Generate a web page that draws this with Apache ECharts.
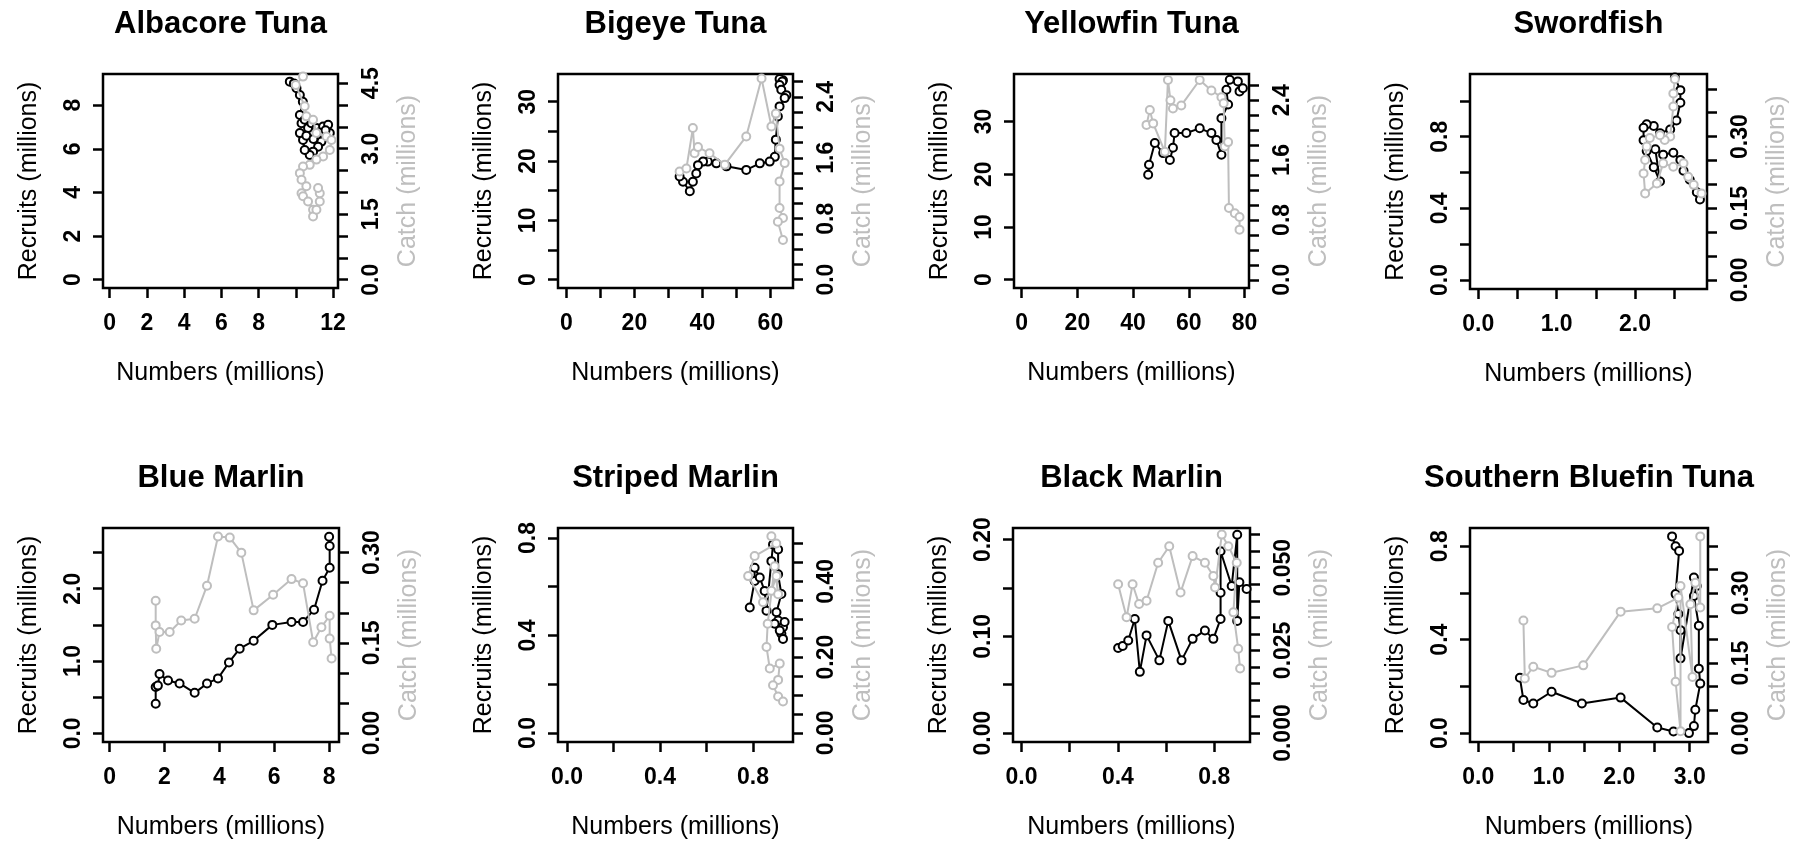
<!DOCTYPE html>
<html>
<head>
<meta charset="utf-8">
<script src="https://cdn.jsdelivr.net/npm/echarts@6/dist/echarts.min.js"></script>
<style>
html,body{margin:0;padding:0;background:#fff;}
#chart{width:1807px;height:841px;}
</style>
</head>
<body>
<div id="chart"></div>
<script>
// ---------------- DATA ----------------
// Albacore Tuna
const albNumR = [9.68,9.90,10.04,10.22,10.38,10.22,10.31,10.48,10.66,10.84,11.11,11.47,11.74,11.83,11.56,11.38,11.20,10.93,10.75,10.48,10.39,10.22,10.57,10.95,11.25,11.60];
const albRec  = [9.08,9.00,8.78,8.47,8.16,7.55,7.17,7.33,6.95,7.17,6.95,7.02,7.10,6.72,6.56,6.33,6.10,5.87,5.72,5.95,6.41,6.72,6.60,6.45,6.75,6.85];
const albNumC = [10.39,10.00,10.48,10.57,10.93,11.11,11.65,11.92,11.83,11.47,11.11,10.75,10.39,10.22,10.31,10.57,10.31,10.39,10.66,10.93,10.93,11.11,11.29,11.29,11.20];
const albCatch= [4.65,4.46,3.97,3.74,3.66,3.36,3.28,3.20,2.97,2.82,2.75,2.63,2.59,2.44,2.29,2.14,1.98,1.91,1.79,1.60,1.45,1.60,1.79,1.98,2.10];
// Bigeye Tuna
const bigNumR = [63.7,62.7,63.5,62.7,63.2,64.7,64.2,62.7,62.2,61.6,61.3,59.8,56.9,52.9,47.1,44.1,41.6,40.2,38.7,38.2,37.2,36.3,34.3,33.3];
const bigRec  = [33.6,33.8,33.4,32.8,32.0,31.1,30.6,29.2,27.5,23.6,20.7,19.9,19.6,18.5,19.1,19.6,19.9,19.9,19.3,17.9,16.5,14.9,16.5,17.4];
const bigNumC = [33.3,35.3,37.2,37.7,38.7,42.1,46.6,52.9,57.4,60.3,61.6,62.7,64.2,62.7,62.7,63.7,62.2,63.7];
const bigCatch= [1.42,1.46,1.99,1.66,1.74,1.66,1.51,1.88,2.64,2.01,2.18,1.72,1.53,1.29,0.94,0.81,0.76,0.52];
// Yellowfin Tuna
const yftNumR = [45.4,45.7,47.8,50.8,53.2,54.3,54.9,59.1,63.9,68.1,69.9,71.7,71.7,74.1,73.5,74.7,77.6,78.2,79.4];
const yftRec  = [19.9,21.8,25.9,24.0,22.7,25.0,27.8,27.8,28.7,27.8,26.5,23.7,30.6,33.2,36.0,37.9,37.6,35.7,36.3];
const yftNumC = [44.8,46.0,47.2,51.4,52.5,53.4,54.3,57.3,63.9,68.1,71.7,72.5,72.9,74.1,74.4,76.5,78.2,78.2];
const yftCatch= [2.07,2.27,2.09,1.71,2.67,2.40,2.29,2.33,2.67,2.53,2.44,2.36,1.78,1.84,0.96,0.89,0.84,0.67];
// Swordfish
const swoNumR = [2.51,2.58,2.58,2.53,2.45,2.32,2.24,2.15,2.11,2.11,2.15,2.24,2.32,2.26,2.36,2.49,2.58,2.62,2.70,2.79,2.83];
const swoRec  = [1.13,1.06,0.99,0.89,0.84,0.82,0.86,0.87,0.85,0.78,0.72,0.63,0.55,0.73,0.70,0.71,0.67,0.61,0.56,0.49,0.45];
const swoNumC = [2.51,2.49,2.49,2.45,2.38,2.32,2.19,2.15,2.13,2.11,2.13,2.28,2.36,2.49,2.62,2.68,2.75,2.85];
const swoCatch= [0.420,0.390,0.363,0.300,0.293,0.303,0.297,0.279,0.251,0.223,0.181,0.202,0.244,0.237,0.244,0.216,0.199,0.181];
// Blue Marlin
const bumNumR = [1.68,1.68,1.76,1.82,2.13,2.55,3.10,3.55,3.95,4.35,4.74,5.25,5.93,6.63,7.05,7.45,7.76,8.02,8.02,8.00];
const bumRec  = [0.41,0.64,0.66,0.82,0.73,0.69,0.56,0.69,0.76,0.98,1.17,1.28,1.50,1.54,1.54,1.71,2.11,2.29,2.59,2.72];
const bumNumC = [1.68,1.68,1.70,1.82,2.19,2.61,3.10,3.55,3.95,4.38,4.80,5.25,5.96,6.63,7.05,7.42,7.72,8.02,8.02,8.09];
const bumCatch= [0.220,0.179,0.140,0.168,0.168,0.187,0.190,0.245,0.327,0.325,0.300,0.204,0.230,0.256,0.249,0.151,0.176,0.195,0.157,0.124];
// Striped Marlin
const stmNumR = [0.786,0.807,0.807,0.829,0.850,0.858,0.879,0.886,0.908,0.908,0.922,0.901,0.908,0.893,0.929,0.922,0.929,0.915,0.936];
const stmRec  = [0.515,0.624,0.678,0.638,0.583,0.502,0.705,0.773,0.753,0.651,0.570,0.495,0.461,0.448,0.434,0.407,0.386,0.420,0.455];
const stmNumC = [0.879,0.900,0.807,0.779,0.843,0.879,0.901,0.908,0.893,0.863,0.858,0.872,0.915,0.908,0.886,0.908,0.929];
const stmCatch= [0.519,0.500,0.467,0.414,0.345,0.375,0.414,0.366,0.440,0.288,0.227,0.170,0.183,0.140,0.126,0.096,0.083];
// Black Marlin
const blmNumR = [0.401,0.420,0.443,0.470,0.491,0.519,0.572,0.609,0.664,0.710,0.761,0.796,0.826,0.826,0.826,0.872,0.895,0.895,0.904,0.934];
const blmRec  = [0.0879,0.0900,0.0957,0.118,0.0633,0.101,0.0752,0.116,0.0752,0.0974,0.106,0.0974,0.118,0.145,0.188,0.152,0.205,0.116,0.156,0.149];
const blmNumC = [0.401,0.436,0.461,0.488,0.519,0.567,0.613,0.660,0.710,0.761,0.796,0.803,0.831,0.858,0.893,0.879,0.899,0.907];
const blmCatch= [0.0450,0.0350,0.0450,0.0390,0.0400,0.0515,0.0565,0.0425,0.0535,0.0515,0.0475,0.0440,0.0600,0.0565,0.0515,0.0365,0.0255,0.0195];
// Southern Bluefin Tuna
const sbtNumR = [2.75,2.80,2.85,2.80,2.84,2.87,2.87,3.06,3.10,3.06,3.13,3.13,3.15,3.08,3.06,2.99,2.77,2.54,2.02,1.47,1.04,0.78,0.64,0.59];
const sbtRec  = [0.842,0.800,0.780,0.595,0.510,0.440,0.320,0.666,0.630,0.587,0.460,0.276,0.212,0.100,0.030,0.000,0.007,0.024,0.152,0.127,0.177,0.127,0.142,0.237];
const sbtNumC = [0.64,0.66,0.78,1.04,1.49,2.02,2.54,2.84,2.75,2.80,2.87,2.87,3.04,3.01,3.08,3.15,3.15];
const sbtCatch= [0.241,0.117,0.142,0.129,0.145,0.260,0.267,0.290,0.227,0.110,0.004,0.315,0.120,0.276,0.322,0.269,0.421];

// ---------------- TICKS & TICK LABELS ----------------
const albXTicks = [0,2,4,6,8,10,12];            const albXLabels = ['0','2','4','6','8','12'];
const albRTicks = [0,2,4,6,8];                  const albRLabels = ['0','2','4','6','8'];
const albCTicks = [0,0.5,1,1.5,2,2.5,3,3.5,4,4.5]; const albCLabels = ['0.0','1.5','3.0','4.5'];

const bigXTicks = [0,10,20,30,40,50,60];        const bigXLabels = ['0','20','40','60'];
const bigRTicks = [0,5,10,15,20,25,30];         const bigRLabels = ['0','10','20','30'];
const bigCTicks = [0,0.2,0.4,0.6,0.8,1.0,1.2,1.4,1.6,1.8,2.0,2.2,2.4,2.6]; const bigCLabels = ['0.0','0.8','1.6','2.4'];

const yftXTicks = [0,20,40,60,80];              const yftXLabels = ['0','20','40','60','80'];
const yftRTicks = [0,10,20,30];                 const yftRLabels = ['0','10','20','30'];
const yftCTicks = [0,0.2,0.4,0.6,0.8,1.0,1.2,1.4,1.6,1.8,2.0,2.2,2.4,2.6]; const yftCLabels = ['0.0','0.8','1.6','2.4'];

const swoXTicks = [0,0.5,1,1.5,2,2.5];          const swoXLabels = ['0.0','1.0','2.0'];
const swoRTicks = [0,0.2,0.4,0.6,0.8,1.0];      const swoRLabels = ['0.0','0.4','0.8'];
const swoCTicks = [0,0.05,0.10,0.15,0.20,0.25,0.30,0.35,0.40]; const swoCLabels = ['0.00','0.15','0.30'];

const bumXTicks = [0,2,4,6,8];                  const bumXLabels = ['0','2','4','6','8'];
const bumRTicks = [0,0.5,1,1.5,2,2.5];          const bumRLabels = ['0.0','1.0','2.0'];
const bumCTicks = [0,0.05,0.10,0.15,0.20,0.25,0.30]; const bumCLabels = ['0.00','0.15','0.30'];

const stmXTicks = [0,0.2,0.4,0.6,0.8];          const stmXLabels = ['0.0','0.4','0.8'];
const stmRTicks = [0,0.2,0.4,0.6,0.8];          const stmRLabels = ['0.0','0.4','0.8'];
const stmCTicks = [0,0.05,0.10,0.15,0.20,0.25,0.30,0.35,0.40,0.45,0.50]; const stmCLabels = ['0.00','0.20','0.40'];

const blmXTicks = [0,0.2,0.4,0.6,0.8];          const blmXLabels = ['0.0','0.4','0.8'];
const blmRTicks = [0,0.05,0.10,0.15,0.20];      const blmRLabels = ['0.00','0.10','0.20'];
const blmCTicks = [0,0.005,0.010,0.015,0.020,0.025,0.030,0.035,0.040,0.045,0.050,0.055,0.060]; const blmCLabels = ['0.000','0.025','0.050'];

const sbtXTicks = [0,0.5,1,1.5,2,2.5,3];        const sbtXLabels = ['0.0','1.0','2.0','3.0'];
const sbtRTicks = [0,0.2,0.4,0.6,0.8];          const sbtRLabels = ['0.0','0.4','0.8'];
const sbtCTicks = [0,0.05,0.10,0.15,0.20,0.25,0.30,0.35,0.40]; const sbtCLabels = ['0.00','0.15','0.30'];

const titles = ['Albacore Tuna','Bigeye Tuna','Yellowfin Tuna','Swordfish','Blue Marlin','Striped Marlin','Black Marlin','Southern Bluefin Tuna'];

// ---------------- LAYOUT ----------------
const panels = [
  {numR:albNumR,rec:albRec,numC:albNumC,cat:albCatch,xT:albXTicks,xL:albXLabels,rT:albRTicks,rL:albRLabels,cT:albCTicks,cL:albCLabels,
   xr:[-0.36,12.27], rr:[-0.38,9.43], cr:[-0.19,4.71], box:[103,74,235,214]},
  {numR:bigNumR,rec:bigRec,numC:bigNumC,cat:bigCatch,xT:bigXTicks,xL:bigXLabels,rT:bigRTicks,rL:bigRLabels,cT:bigCTicks,cL:bigCLabels,
   xr:[-2.47,66.65], rr:[-1.40,34.66], cr:[-0.11,2.70], box:[558,74,235,214]},
  {numR:yftNumR,rec:yftRec,numC:yftNumC,cat:yftCatch,xT:yftXTicks,xL:yftXLabels,rT:yftRTicks,rL:yftRLabels,cT:yftCTicks,cL:yftCLabels,
   xr:[-2.76,81.6], rr:[-1.58,39.0], cr:[-0.11,2.75], box:[1014,74,235,214]},
  {numR:swoNumR,rec:swoRec,numC:swoNumC,cat:swoCatch,xT:swoXTicks,xL:swoXLabels,rT:swoRTicks,rL:swoRLabels,cT:swoCTicks,cL:swoCLabels,
   xr:[-0.106,2.92], rr:[-0.05,1.15], cr:[-0.019,0.431], box:[1470,74,237,215]},
  {numR:bumNumR,rec:bumRec,numC:bumNumC,cat:bumCatch,xT:bumXTicks,xL:bumXLabels,rT:bumRTicks,rL:bumRLabels,cT:bumCTicks,cL:bumCLabels,
   xr:[-0.24,8.36], rr:[-0.12,2.84], cr:[-0.015,0.341], box:[103,528,236,216]},
  {numR:stmNumR,rec:stmRec,numC:stmNumC,cat:stmCatch,xT:stmXTicks,xL:stmXLabels,rT:stmRTicks,rL:stmRLabels,cT:stmCTicks,cL:stmCLabels,
   xr:[-0.039,0.972], rr:[-0.037,0.841], cr:[-0.024,0.541], box:[558,528,235,216]},
  {numR:blmNumR,rec:blmRec,numC:blmNumC,cat:blmCatch,xT:blmXTicks,xL:blmXLabels,rT:blmRTicks,rL:blmRLabels,cT:blmCTicks,cL:blmCLabels,
   xr:[-0.035,0.948], rr:[-0.0092,0.212], cr:[-0.0027,0.062], box:[1013,528,237,216]},
  {numR:sbtNumR,rec:sbtRec,numC:sbtNumC,cat:sbtCatch,xT:sbtXTicks,xL:sbtXLabels,rT:sbtRTicks,rL:sbtRLabels,cT:sbtCTicks,cL:sbtCLabels,
   xr:[-0.118,3.26], rr:[-0.038,0.878], cr:[-0.019,0.439], box:[1470,528,238,216]}
];

const FONT = '"Liberation Sans", Arial, Helvetica, sans-serif';
const GRAY = '#bebebe';
const fmt = labels => v => { const s = labels.find(l => Math.abs(Number(l) - v) < 1e-9); return s === undefined ? '' : s; };

const grid = [], xAxis = [], yAxis = [], series = [], graphic = [];
panels.forEach((p, i) => {
  const [l, t, w, h] = p.box;
  grid.push({left:l, top:t, width:w, height:h, show:true, borderColor:'#000', borderWidth:2.5, backgroundColor:'#fff', containLabel:false});
  const tickStyle = {show:true, length:10, inside:false, lineStyle:{color:'#000', width:2.5}};
  const lab = {fontSize:23, fontWeight:'bold', fontFamily:FONT, color:'#000'};
  xAxis.push({
    type:'value', gridIndex:i, min:p.xr[0], max:p.xr[1],
    name:'Numbers (millions)', nameLocation:'middle', nameGap:73,
    nameTextStyle:{fontSize:25, fontFamily:FONT, color:'#000'},
    axisLine:{show:false, onZero:false},
    axisTick:Object.assign({customValues:p.xT}, tickStyle),
    axisLabel:Object.assign({customValues:p.xL.map(Number), formatter:fmt(p.xL), margin:24}, lab),
    splitLine:{show:false}
  });
  yAxis.push({
    type:'value', gridIndex:i, position:'left', min:p.rr[0], max:p.rr[1],
    name:'Recruits (millions)', nameLocation:'middle', nameRotate:90, nameGap:61,
    nameTextStyle:{fontSize:25, fontFamily:FONT, color:'#000'},
    axisLine:{show:false, onZero:false},
    axisTick:Object.assign({customValues:p.rT}, tickStyle),
    axisLabel:Object.assign({customValues:p.rL.map(Number), formatter:fmt(p.rL), rotate:90, margin:18}, lab),
    splitLine:{show:false}
  });
  yAxis.push({
    type:'value', gridIndex:i, position:'right', min:p.cr[0], max:p.cr[1],
    name:'Catch (millions)', nameLocation:'middle', nameRotate:90, nameGap:58,
    nameTextStyle:{fontSize:25, fontFamily:FONT, color:GRAY},
    axisLine:{show:false, onZero:false},
    axisTick:Object.assign({customValues:p.cT}, tickStyle),
    axisLabel:Object.assign({customValues:p.cL.map(Number), formatter:fmt(p.cL), rotate:90, margin:22}, lab),
    splitLine:{show:false}
  });
  series.push({
    type:'line', xAxisIndex:i, yAxisIndex:2*i, name:titles[i] + ' recruits',
    data:p.numR.map((x, k) => [x, p.rec[k]]),
    symbol:'emptyCircle', symbolSize:8, showSymbol:true,
    lineStyle:{color:'#000', width:2}, itemStyle:{color:'#000', borderColor:'#000', borderWidth:1.8},
    animation:false, silent:true, z:2
  });
  series.push({
    type:'line', xAxisIndex:i, yAxisIndex:2*i+1, name:titles[i] + ' catch',
    data:p.numC.map((x, k) => [x, p.cat[k]]),
    symbol:'emptyCircle', symbolSize:8, showSymbol:true,
    lineStyle:{color:GRAY, width:2}, itemStyle:{color:GRAY, borderColor:GRAY, borderWidth:1.8},
    animation:false, silent:true, z:3
  });
  graphic.push({
    type:'text', x:l + w / 2, y:(t < 300 ? 24 : 478),
    style:{text:titles[i], fill:'#000', font:'bold 31px ' + FONT, align:'center', verticalAlign:'middle'}
  });
});

const chart = echarts.init(document.getElementById('chart'), null, {renderer:'canvas'});
chart.setOption({
  backgroundColor:'#fff',
  animation:false,
  grid, xAxis, yAxis, series, graphic
});
</script>
</body>
</html>
